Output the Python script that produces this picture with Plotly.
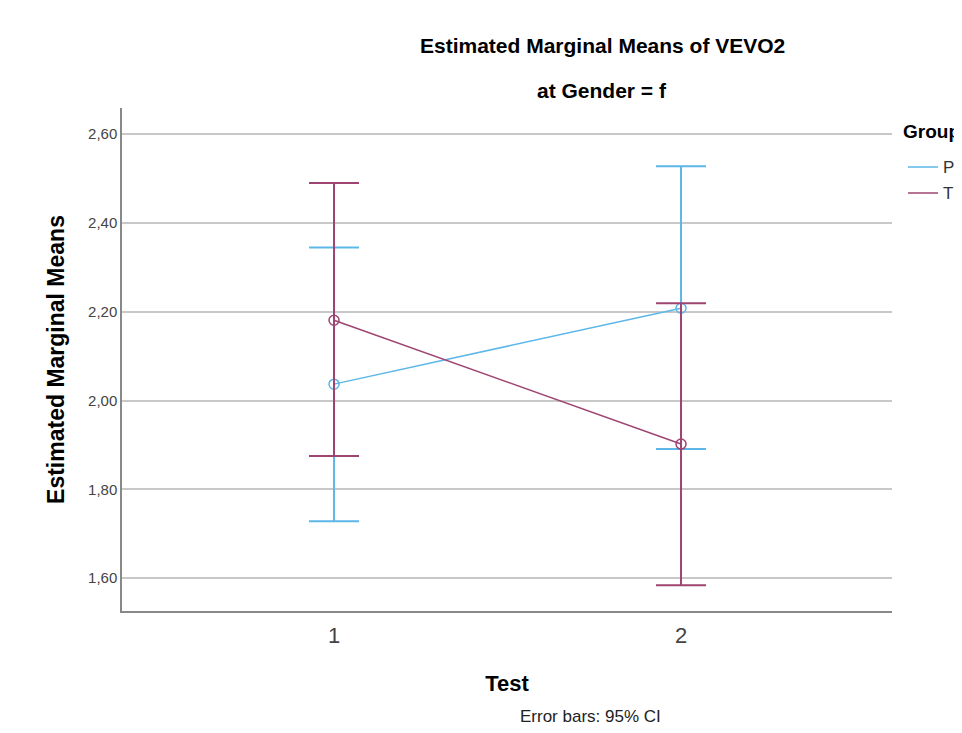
import plotly.graph_objects as go

tests = [1, 2]
groups = ["P", "T"]
means = {"P": [2.037, 2.208], "T": [2.181, 1.902]}
upper = {"P": [2.345, 2.528], "T": [2.490, 2.219]}
lower = {"P": [1.728, 1.891], "T": [1.875, 1.584]}
colors = {"P": "#5DB7E8", "T": "#9E4470"}
y_ticks = [1.6, 1.8, 2.0, 2.2, 2.4, 2.6]

# figure geometry (the page body adds an 8px offset)
W, H = 954, 717
L, R, T, B = 114, 70, 100, 114
PW, PH = W - L - R, H - T - B


def px(fx):
    return (fx - L) / PW


def py(fy):
    return 1 - (fy - T) / PH


fig = go.Figure()
for g in groups:
    m = means[g]
    fig.add_trace(go.Scatter(
        x=tests, y=m, name=g, mode="lines+markers", showlegend=False,
        line=dict(color=colors[g], width=1.5),
        marker=dict(symbol="circle-open", size=10, color=colors[g], line=dict(width=1.5)),
        error_y=dict(type="data", symmetric=False,
                     array=[u - v for u, v in zip(upper[g], m)],
                     arrayminus=[v - l for l, v in zip(lower[g], m)],
                     color=colors[g], thickness=2, width=25),
    ))

annotations = [
    dict(text="<b>Estimated Marginal Means of VEVO2</b>", x=px(594), y=py(37),
         xanchor="center", yanchor="middle", font=dict(size=21)),
    dict(text="<b>at Gender = f</b>", x=px(594), y=py(82),
         xanchor="center", yanchor="middle", font=dict(size=21)),
    dict(text="Error bars: 95% CI", x=px(582), y=py(708),
         xanchor="center", yanchor="middle", font=dict(size=17, color="#222")),
    dict(text="<b>Group</b>", x=px(893), y=py(124),
         xanchor="left", yanchor="middle", font=dict(size=19)),
]
shapes = []
leg_y = {"P": 159, "T": 185}
for g in groups:
    shapes.append(dict(type="line", xref="paper", yref="paper",
                       x0=px(900), x1=px(930), y0=py(leg_y[g]), y1=py(leg_y[g]),
                       line=dict(color=colors[g], width=1.5)))
    annotations.append(dict(text=g, x=px(933), y=py(leg_y[g]), xanchor="left",
                            yanchor="middle", font=dict(size=17, color="#333")))
for a in annotations:
    a.update(xref="paper", yref="paper", showarrow=False)

fig.update_layout(
    width=W, height=H,
    margin=dict(l=L, r=R, t=T, b=B, autoexpand=False),
    paper_bgcolor="white", plot_bgcolor="white",
    separators=",.",
    font=dict(family="Arial, Liberation Sans, sans-serif", color="#000"),
    showlegend=False,
    xaxis=dict(range=[0.389, 2.608], tickvals=tests, ticktext=["1", "2"],
               showgrid=False, showline=True, linecolor="#888", linewidth=1.5,
               ticks="", ticklabelstandoff=4, tickfont=dict(size=22, color="#444"),
               title=dict(text="<b>Test</b>", font=dict(size=22), standoff=28),
               zeroline=False),
    yaxis=dict(range=[1.526, 2.659], tickvals=y_ticks, tickformat=".2f",
               showgrid=True, gridcolor="#C8C8C8", gridwidth=1.5,
               showline=True, linecolor="#888", linewidth=1.5,
               ticks="", tickfont=dict(size=15, color="#444"),
               title=dict(text="<b>Estimated Marginal Means</b>", font=dict(size=23), standoff=17),
               zeroline=False),
    annotations=annotations,
    shapes=shapes,
)

fig.write_html("out.html")
